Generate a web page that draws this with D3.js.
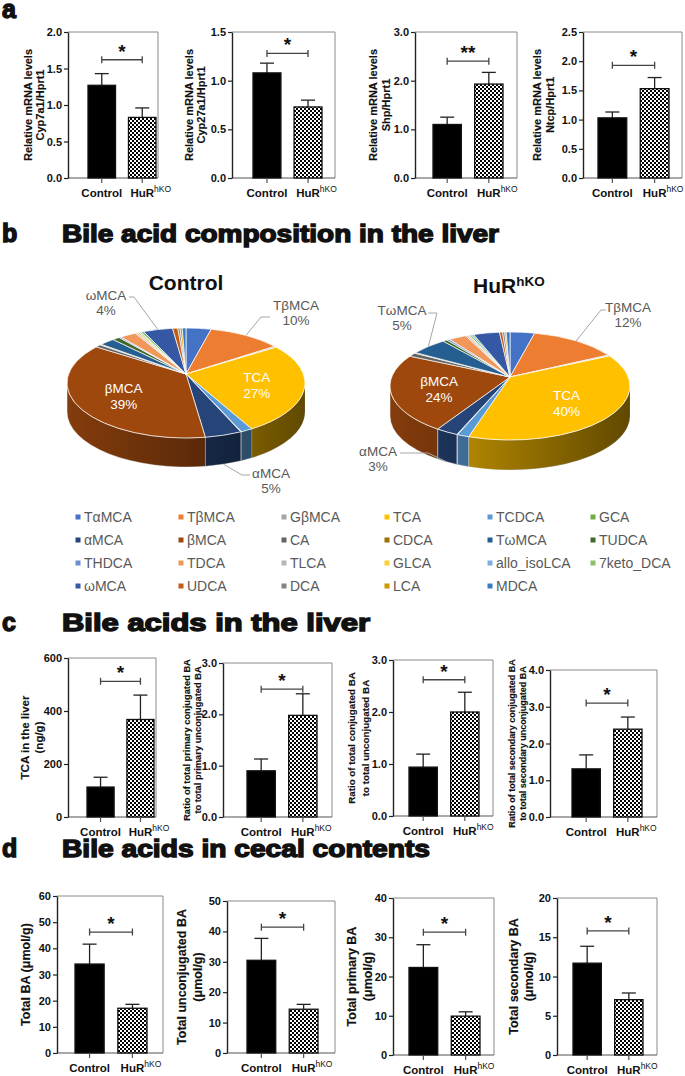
<!DOCTYPE html>
<html>
<head>
<meta charset="utf-8">
<script src="https://cdn.jsdelivr.net/npm/d3@7"></script>
<style>
  body { margin: 0; background: #fff; }
  svg text { font-family: "Liberation Sans", Arial, sans-serif; }
</style>
</head>
<body>
<div id="fig"></div>
<script>
// ---------- data ----------
const groups = ['Control', 'HuR'];

// a - relative mRNA levels
const mrnaLabels = [['Relative mRNA levels', 'Cyp7a1/Hprt1'], ['Relative mRNA levels', 'Cyp27a1/Hprt1'],
                    ['Relative mRNA levels', 'Shp/Hprt1'], ['Relative mRNA levels', 'Ntcp/Hprt1']];
const mrnaMeans = [[1.27, 0.83], [1.08, 0.73], [1.10, 1.93], [1.03, 1.53]];
const mrnaErrs = [[0.16, 0.13], [0.10, 0.07], [0.15, 0.24], [0.10, 0.19]];
const mrnaTicks = [[0, 0.5, 1, 1.5, 2], [0, 0.5, 1, 1.5], [0, 1, 2, 3], [0, 0.5, 1, 1.5, 2, 2.5]];
const mrnaSig = ['*', '*', '**', '*'];
const mrnaBracket = [1.62, 1.28, 2.4, 1.93];

// b - bile acid composition (%)
const baNames = ['TαMCA', 'TβMCA', 'GβMCA', 'TCA', 'TCDCA', 'GCA',
                 'αMCA', 'βMCA', 'CA', 'CDCA', 'TωMCA', 'TUDCA',
                 'THDCA', 'TDCA', 'TLCA', 'GLCA', 'allo_isoLCA', '7keto_DCA',
                 'ωMCA', 'UDCA', 'DCA', 'LCA', 'MDCA'];
const baColors = ['#4472C4', '#ED7D31', '#A5A5A5', '#FFC000', '#5B9BD5', '#70AD47',
                  '#264478', '#9E480E', '#636363', '#997300', '#255E91', '#43682B',
                  '#698ED0', '#F1975A', '#B7B7B7', '#FFCD33', '#7CAFDD', '#8CC168',
                  '#3458A4', '#C55A11', '#848484', '#CC9A00', '#3A7CC2'];
const controlPct = [3.4, 10, 0.3, 27, 1.6, 0.1, 5, 39, 0.8, 0.2, 2.1, 1.0,
                    0.3, 2.2, 0.3, 0.3, 0.2, 0.4, 4, 0.7, 0.3, 0.3, 0.5];
const hurPct = [3.3, 12, 0.3, 40, 1.6, 0.1, 3, 24, 1.1, 0.2, 5, 0.6,
                0.4, 2.4, 0.3, 0.2, 0.3, 0.3, 3.5, 0.4, 0.3, 0.2, 0.5];

// c - bile acids in the liver
const liverLabels = [['TCA in the liver', '(ng/g)'],
                     ['Ratio of total primary conjugated BA', 'to total primary unconjugated BA'],
                     ['Ratio of total  conjugated BA', 'to total unconjugated BA'],
                     ['Ratio of total secondary conjugated BA', 'to total secondary unconjugated BA']];
const liverMeans = [[113, 368], [0.90, 1.98], [0.94, 2.00], [1.31, 2.39]];
const liverErrs = [[37, 92], [0.23, 0.42], [0.25, 0.38], [0.38, 0.33]];
const liverTicks = [[0, 200, 400, 600], [0, 1, 2, 3], [0, 1, 2, 3], [0, 1, 2, 3, 4]];
const liverBracket = [512, 2.49, 2.62, 3.1];

// d - bile acids in cecal contents
const cecalLabels = [['Total BA (μmol/g)'], ['Total unconjugated BA', '(μmol/g)'],
                     ['Total primary BA', '(μmol/g)'], ['Total secondary BA', '(μmol/g)']];
const cecalMeans = [[34, 17.1], [30.5, 14.4], [22.3, 9.9], [11.7, 7.05]];
const cecalErrs = [[7.6, 1.5], [7.2, 1.6], [5.8, 1.1], [2.15, 0.85]];
const cecalTicks = [[0, 10, 20, 30, 40, 50, 60], [0, 10, 20, 30, 40, 50], [0, 10, 20, 30, 40], [0, 5, 10, 15, 20]];
const cecalBracket = [46.2, 41.4, 31.3, 15.8];

// ---------- layout ----------
const boxesA = [
  {x0: 68, x1: 158, top: 32, bot: 178, b0: 88, b1: 156, lab: [28, 40], ls: 11},
  {x0: 232, x1: 335, top: 32, bot: 178, b0: 253, b1: 322, lab: [189, 201], ls: 11},
  {x0: 415, x1: 517, top: 32, bot: 178, b0: 433, b1: 503, lab: [373, 386], ls: 11},
  {x0: 583, x1: 682, top: 32, bot: 178, b0: 598, b1: 669, lab: [537, 550], ls: 11}
];
const boxesC = [
  {x0: 68, x1: 156, top: 658, bot: 817, b0: 87, b1: 154, lab: [25, 39], ls: 11.5},
  {x0: 223, x1: 332, top: 663, bot: 817, b0: 247, b1: 317, lab: [187, 198], ls: 9.3},
  {x0: 393, x1: 493, top: 660, bot: 816, b0: 409, b1: 479, lab: [351, 365], ls: 9.8},
  {x0: 550, x1: 657, top: 670, bot: 817, b0: 572, b1: 642, lab: [512, 523], ls: 9}
];
const boxesD = [
  {x0: 57, x1: 163, top: 896, bot: 1053, b0: 75, b1: 147, lab: [25], ls: 12.5},
  {x0: 227, x1: 335, top: 901, bot: 1053, b0: 247, b1: 318, lab: [181, 197], ls: 12.5},
  {x0: 393, x1: 494, top: 898, bot: 1055, b0: 409, b1: 480, lab: [351, 367], ls: 12.5},
  {x0: 557, x1: 657, top: 898, bot: 1055, b0: 573, b1: 643, lab: [513, 528], ls: 12.5}
];

const svg = d3.select('#fig').append('svg').attr('width', 685).attr('height', 1076);
const defs = svg.append('defs');
const pat = defs.append('pattern').attr('id', 'checker')
  .attr('width', 4).attr('height', 4).attr('patternUnits', 'userSpaceOnUse');
pat.append('rect').attr('width', 4).attr('height', 4).attr('fill', '#fff');
pat.append('rect').attr('width', 2).attr('height', 2).attr('fill', '#000');
pat.append('rect').attr('x', 2).attr('y', 2).attr('width', 2).attr('height', 2).attr('fill', '#000');
const shade = defs.append('linearGradient').attr('id', 'sideShade');
shade.append('stop').attr('offset', '0%').attr('stop-color', '#000').attr('stop-opacity', 0.0);
shade.append('stop').attr('offset', '100%').attr('stop-color', '#000').attr('stop-opacity', 0.55);

/**
 * small bar chart: two bars + sem + significance bracket
 */
class BarChart {
  box; g; scaleX; scaleY;

  constructor(parent, box){
    this.box = box;
    this.g = parent.append('g');
  }

  #updateScales(ticks){
    const b = this.box;
    this.scaleX = d3.scaleBand(groups, [b.b0, b.b1]).paddingInner(0.32);
    this.scaleY = d3.scaleLinear([0, ticks[ticks.length - 1]], [b.bot, b.top]);
  }

  #updateFrame(){
    const b = this.box;
    this.g.append('path')
      .attr('d', `M${b.x0},${b.top}H${b.x1}V${b.bot}`)
      .attr('fill', 'none').attr('stroke', '#8a8a8a').attr('stroke-width', 1);
    this.g.append('line')
      .attr('x1', b.x0).attr('x2', b.x1).attr('y1', b.bot).attr('y2', b.bot)
      .attr('stroke', '#555').attr('stroke-width', 1.2);
  }

  #updateBars(means, errs){
    const x = this.scaleX, y = this.scaleY, bw = x.bandwidth();
    const data = groups.map((k, i) => ({k, m: means[i], e: errs[i]}));
    const err = this.g.selectAll('g.err').data(data).join('g').classed('err', true)
      .attr('stroke', '#222').attr('stroke-width', 1.3);
    err.append('line')
      .attr('x1', d => x(d.k) + bw / 2).attr('x2', d => x(d.k) + bw / 2)
      .attr('y1', d => y(d.m)).attr('y2', d => y(d.m + d.e));
    err.append('line')
      .attr('x1', d => x(d.k) + bw / 2 - 7).attr('x2', d => x(d.k) + bw / 2 + 7)
      .attr('y1', d => y(d.m + d.e)).attr('y2', d => y(d.m + d.e));
    this.g.selectAll('rect.bar').data(data).join('rect').classed('bar', true)
      .attr('x', d => x(d.k)).attr('y', d => y(d.m))
      .attr('width', bw).attr('height', d => y(0) - y(d.m))
      .attr('fill', (d, i) => i === 0 ? '#000' : 'url(#checker)')
      .attr('stroke', '#111').attr('stroke-width', 1.3);
  }

  #updateAxes(ticks, fmt){
    const b = this.box;
    const ax = this.g.append('g').attr('transform', `translate(${b.x0},0)`)
      .call(d3.axisLeft(this.scaleY).tickValues(ticks).tickFormat(fmt).tickSize(4).tickSizeOuter(0).tickPadding(2));
    ax.select('.domain').attr('stroke', '#222').attr('stroke-width', 1.4);
    ax.selectAll('.tick line').attr('stroke', '#222').attr('stroke-width', 1.2);
    ax.selectAll('.tick text').attr('font-size', 11).attr('font-weight', 'bold').attr('fill', '#111');

    const bx = this.g.append('g').attr('transform', `translate(0,${b.bot})`)
      .call(d3.axisBottom(this.scaleX).tickSize(5).tickPadding(6));
    bx.select('.domain').remove();
    bx.selectAll('.tick line').attr('stroke', '#555').attr('stroke-width', 1.2);
    bx.selectAll('.tick text').attr('font-size', 11.5).attr('font-weight', 'bold').attr('fill', '#111')
      .each(function(d){
        if (d !== 'HuR') return;
        const t = d3.select(this).text('');
        t.append('tspan').text('HuR');
        const s = t.append('tspan').text('hKO').attr('font-size', 8.5).attr('font-weight', 'normal').attr('dy', -5);
        t.attr('x', s.node().getComputedTextLength() / 2);
      });
  }

  render(means, errs, ticks, fmt){
    this.#updateScales(ticks);
    this.#updateFrame();
    this.#updateBars(means, errs);
    this.#updateAxes(ticks, fmt);
    return this;
  }

  setLabels(lines, size){
    const b = this.box, yc = (b.top + b.bot) / 2;
    lines.forEach((s, i) => {
      this.g.append('text')
        .attr('transform', `translate(${b.lab[i] + size * 0.36},${yc})rotate(-90)`)
        .attr('text-anchor', 'middle').attr('font-size', size).attr('font-weight', 'bold')
        .attr('fill', '#111').attr('stroke', '#111').attr('stroke-width', 0.15).text(s);
    });
    return this;
  }

  setSignificance(stars, at){
    const x = this.scaleX, bw = x.bandwidth(), yy = this.scaleY(at);
    const xa = x(groups[0]) + bw / 2, xb = x(groups[1]) + bw / 2;
    this.g.append('path')
      .attr('d', `M${xa},${yy - 3.5}V${yy + 3.5}M${xa},${yy}H${xb}M${xb},${yy - 3.5}V${yy + 3.5}`)
      .attr('fill', 'none').attr('stroke', '#444').attr('stroke-width', 1.3);
    this.g.append('text').attr('x', (xa + xb) / 2).attr('y', yy - 2)
      .attr('text-anchor', 'middle').attr('font-size', 19).attr('font-weight', 'bold')
      .attr('fill', '#111').text(stars);
    return this;
  }
}

// ---------- headings ----------
function heading(letter, title, y, len){
  svg.append('text').attr('x', 2).attr('y', y).text(letter)
    .attr('font-size', 25).attr('font-weight', 900).attr('fill', '#111')
    .attr('stroke', '#111').attr('stroke-width', 1.4);
  if (title) svg.append('text').attr('x', 62).attr('y', y).text(title)
    .attr('font-size', 24).attr('font-weight', 900).attr('fill', '#111')
    .attr('textLength', len).attr('lengthAdjust', 'spacingAndGlyphs')
    .attr('stroke', '#111').attr('stroke-width', 1.4);
}
heading('a', '', 18);
heading('b', 'Bile acid composition in the liver', 242, 437);
heading('c', 'Bile acids in the liver', 631, 308);
heading('d', 'Bile acids in cecal contents', 857, 368);

// ---------- panel a, c, d ----------
const f1 = d3.format('.1f'), f0 = d3.format('d');
boxesA.forEach((b, i) => new BarChart(svg, b)
  .render(mrnaMeans[i], mrnaErrs[i], mrnaTicks[i], f1)
  .setLabels(mrnaLabels[i], b.ls)
  .setSignificance(mrnaSig[i], mrnaBracket[i]));
boxesC.forEach((b, i) => new BarChart(svg, b)
  .render(liverMeans[i], liverErrs[i], liverTicks[i], i === 0 ? f0 : f1)
  .setLabels(liverLabels[i], b.ls)
  .setSignificance('*', liverBracket[i]));
boxesD.forEach((b, i) => new BarChart(svg, b)
  .render(cecalMeans[i], cecalErrs[i], cecalTicks[i], f0)
  .setLabels(cecalLabels[i], b.ls)
  .setSignificance('*', cecalBracket[i]));

// ---------- panel b: 3D pies ----------
const pies = [
  {values: controlPct, cx: 186, cy: 383, rx: 119, ry: 55, depth: 29, lift: 9,
   inner: [3, 7],
   callouts: [
     {i: 18, tx: 106, ty: 295, elbow: [134, 297], end: [129, 297]},
     {i: 1, tx: 296, ty: 305, elbow: [261, 317], end: [270, 317]},
     {i: 6, tx: 271, ty: 473, elbow: [242, 475], end: [250, 475]}
   ]},
  {values: hurPct, cx: 510, cy: 386, rx: 120, ry: 54, depth: 30, lift: 9,
   inner: [3, 7],
   callouts: [
     {i: 10, tx: 402, ty: 310, elbow: [437, 313], end: [428, 313]},
     {i: 1, tx: 628, ty: 307, elbow: [601, 310], end: [606, 310]},
     {i: 6, tx: 378, ty: 451, elbow: [428, 453], end: [400, 453]}
   ]}
];

function drawPie(P){
  const g = svg.append('g');
  const total = d3.sum(P.values);
  const arcs = d3.pie().sort(null).value(d => d)(P.values);
  const pt = a => [P.cx + P.rx * Math.sin(a), P.cy - P.ry * Math.cos(a)];
  const apex = [P.cx, P.cy - P.lift];
  const sidePath = (a0, a1) => {
    const p0 = pt(a0), p1 = pt(a1);
    return `M${p0}A${P.rx},${P.ry} 0 0 1 ${p1}L${p1[0]},${p1[1] + P.depth}` +
           `A${P.rx},${P.ry} 0 0 0 ${p0[0]},${p0[1] + P.depth}Z`;
  };
  // sides (front half only)
  arcs.forEach((s, i) => {
    const a0 = Math.max(s.startAngle, Math.PI / 2), a1 = Math.min(s.endAngle, 3 * Math.PI / 2);
    if (a1 <= a0) return;
    g.append('path').attr('d', sidePath(a0, a1))
      .attr('fill', d3.color(baColors[i]).darker(0.5))
      .attr('stroke', '#fff').attr('stroke-width', 0.5);
  });
  g.append('path').attr('d', sidePath(Math.PI / 2, 3 * Math.PI / 2)).attr('fill', 'url(#sideShade)');
  // top faces
  arcs.forEach((s, i) => {
    const p0 = pt(s.startAngle), p1 = pt(s.endAngle);
    const large = s.endAngle - s.startAngle > Math.PI ? 1 : 0;
    g.append('path')
      .attr('d', `M${apex}L${p0}A${P.rx},${P.ry} 0 ${large} 1 ${p1}Z`)
      .attr('fill', baColors[i]).attr('stroke', '#fff').attr('stroke-width', 0.7);
  });
  const pctText = i => Math.round(P.values[i] / total * 100) + '%';
  // labels inside
  P.inner.forEach(i => {
    const s = arcs[i], m = (s.startAngle + s.endAngle) / 2, e = pt(m);
    const x = apex[0] + (e[0] - apex[0]) * 0.6, y = apex[1] + (e[1] - apex[1]) * 0.6;
    const t = g.append('text').attr('text-anchor', 'middle').attr('font-size', 13.5).attr('fill', '#fff');
    t.append('tspan').attr('x', x).attr('y', y - 2).text(baNames[i]);
    t.append('tspan').attr('x', x).attr('y', y + 14).text(pctText(i));
  });
  // callouts with leader lines
  P.callouts.forEach(c => {
    const s = arcs[c.i], m = (s.startAngle + s.endAngle) / 2, e = pt(m);
    const front = m > Math.PI / 2 && m < 3 * Math.PI / 2;
    const edge = [e[0], e[1] + (front ? P.depth : 0)];
    g.append('path').attr('d', `M${edge}L${c.elbow}L${c.end}`)
      .attr('fill', 'none').attr('stroke', '#a6a6a6').attr('stroke-width', 1);
    const t = g.append('text').attr('text-anchor', 'middle').attr('font-size', 13.5).attr('fill', '#595959');
    t.append('tspan').attr('x', c.tx).attr('y', c.ty + 5).text(baNames[c.i]);
    t.append('tspan').attr('x', c.tx).attr('y', c.ty + 20).text(pctText(c.i));
  });
}
pies.forEach(drawPie);

svg.append('text').attr('x', 186).attr('y', 290).attr('text-anchor', 'middle')
  .attr('font-size', 21).attr('font-weight', 'bold').attr('fill', '#111').text('Control');
const hurTitle = svg.append('text').attr('x', 473).attr('y', 293)
  .attr('font-size', 21).attr('font-weight', 'bold').attr('fill', '#111');
hurTitle.append('tspan').text('HuR');
hurTitle.append('tspan').attr('font-size', 13.5).attr('dy', -7).text('hKO');

// legend
const legend = svg.append('g').selectAll('g').data(baNames).join('g')
  .attr('transform', (d, i) => `translate(${78 + (i % 6) * 103},${517 + Math.floor(i / 6) * 23})`);
legend.append('rect').attr('x', -2.5).attr('y', -2.5).attr('width', 5).attr('height', 5)
  .attr('fill', (d, i) => baColors[i]);
legend.append('text').attr('x', 6).attr('y', 5).attr('font-size', 14).attr('fill', '#595959').text(d => d);
</script>
</body>
</html>
